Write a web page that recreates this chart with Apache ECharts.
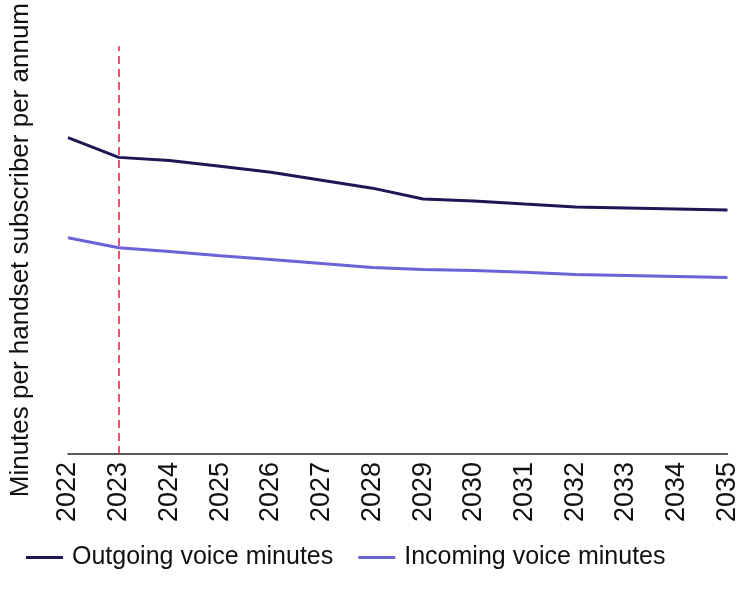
<!DOCTYPE html>
<html><head><meta charset="utf-8">
<script src="https://cdn.jsdelivr.net/npm/echarts@6/dist/echarts.min.js"></script>
<style>html,body{margin:0;padding:0;background:#fff}#c{width:741px;height:601px}</style>
</head><body><div id="c"></div>
<script>
const years = ['2022','2023','2024','2025','2026','2027','2028','2029','2030','2031','2032','2033','2034','2035'];
const outgoing = [1552,1455,1440,1411,1382,1343,1304,1251,1241,1226,1212,1207,1202,1197];
const incoming = [1061,1012,993,973,954,934,915,905,900,891,881,876,871,866];
const markYear = '2023';
const FONT = 'Liberation Sans';
const chart = echarts.init(document.getElementById('c'));
chart.setOption({
  animation:false,
  textStyle:{fontFamily:FONT},
  grid:{left:66,right:10,top:43,bottom:147},
  legend:{bottom:26,left:21,itemWidth:37,itemHeight:3,itemGap:25,
    icon:'rect',
    textStyle:{fontSize:25,color:'#111',fontFamily:FONT,padding:[0,0,0,4]},
    data:['Outgoing voice minutes','Incoming voice minutes']},
  xAxis:{type:'category',data:years,boundaryGap:false,
    axisLine:{lineStyle:{color:'#222',width:1.5}},
    axisTick:{show:false},
    axisLabel:{rotate:90,fontSize:27,color:'#111',margin:8,fontFamily:FONT,interval:0},
    splitLine:{show:false}},
  yAxis:{type:'value',min:0,max:2000,
    name:'Minutes per handset subscriber per annum',nameLocation:'middle',nameGap:34,
    nameTextStyle:{fontSize:26,color:'#111',fontFamily:FONT},
    axisLine:{show:false},axisTick:{show:false},axisLabel:{show:false},splitLine:{show:false}},
  series:[
    {name:'Outgoing voice minutes',type:'line',data:outgoing,symbol:'none',
     lineStyle:{color:'#1b1854',width:3},itemStyle:{color:'#1b1854'},
     markLine:{silent:true,symbol:'none',label:{show:false},
       lineStyle:{color:'#d6203f',type:[8,5],width:1.5},
       data:[{xAxis:markYear}]}},
    {name:'Incoming voice minutes',type:'line',data:incoming,symbol:'none',
     lineStyle:{color:'#6a62d8',width:3},itemStyle:{color:'#6a62d8'}}
  ]
});
</script></body></html>
